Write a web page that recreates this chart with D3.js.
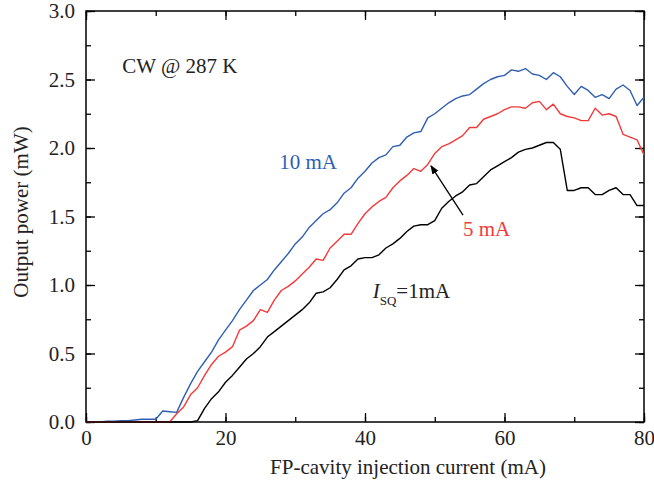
<!DOCTYPE html>
<html>
<head>
<meta charset="utf-8">
<script src="https://cdn.jsdelivr.net/npm/d3@7"></script>
<style>
  body { margin: 0; background: #fff; }
  text { font-family: "Liberation Serif", "Times New Roman", serif; }
</style>
</head>
<body>
<div id="chart"></div>
<script>
// injection current (mA), 1 mA steps
const current = d3.range(0, 81)

// output power (mW) for each I_SQ
const p10mA = [0, 0, 0, 0.005, 0.005, 0.01, 0.01, 0.015, 0.02, 0.02,
  0.02, 0.08, 0.075, 0.07, 0.18, 0.28, 0.37, 0.44, 0.51, 0.60,
  0.67, 0.74, 0.82, 0.89, 0.96, 1.00, 1.04, 1.11, 1.17, 1.23,
  1.30, 1.35, 1.42, 1.47, 1.52, 1.55, 1.60, 1.67, 1.71, 1.78,
  1.83, 1.89, 1.93, 1.95, 2.01, 2.02, 2.08, 2.11, 2.12, 2.22,
  2.25, 2.29, 2.33, 2.36, 2.38, 2.39, 2.43, 2.47, 2.50, 2.52,
  2.53, 2.57, 2.56, 2.58, 2.54, 2.53, 2.50, 2.55, 2.52, 2.45,
  2.39, 2.45, 2.42, 2.37, 2.39, 2.36, 2.43, 2.46, 2.42, 2.31, 2.37]

const p5mA = [0, 0, 0, 0, 0, 0, 0, 0, 0, 0,
  0, 0, 0, 0.06, 0.11, 0.20, 0.25, 0.34, 0.42, 0.48,
  0.51, 0.55, 0.67, 0.70, 0.74, 0.82, 0.80, 0.89, 0.96, 0.99,
  1.03, 1.08, 1.13, 1.19, 1.18, 1.27, 1.32, 1.37, 1.37, 1.45,
  1.52, 1.57, 1.61, 1.64, 1.71, 1.76, 1.80, 1.85, 1.83, 1.88,
  1.96, 2.01, 2.03, 2.06, 2.09, 2.15, 2.15, 2.21, 2.23, 2.25,
  2.28, 2.30, 2.30, 2.29, 2.33, 2.34, 2.28, 2.32, 2.25, 2.23,
  2.22, 2.20, 2.20, 2.29, 2.24, 2.25, 2.23, 2.10, 2.08, 2.06, 1.95]

const p1mA = [0, 0, 0, 0, 0, 0, 0, 0, 0, 0,
  0, 0, 0, 0, 0, 0, 0.01, 0.10, 0.17, 0.22,
  0.29, 0.34, 0.40, 0.46, 0.50, 0.55, 0.62, 0.66, 0.70, 0.74,
  0.78, 0.82, 0.87, 0.94, 0.95, 0.98, 1.04, 1.11, 1.14, 1.19,
  1.20, 1.20, 1.22, 1.27, 1.30, 1.34, 1.39, 1.43, 1.44, 1.44,
  1.47, 1.56, 1.61, 1.65, 1.68, 1.73, 1.74, 1.79, 1.84, 1.87,
  1.90, 1.93, 1.97, 1.99, 2.00, 2.02, 2.04, 2.04, 1.99, 1.69,
  1.69, 1.71, 1.71, 1.66, 1.66, 1.69, 1.71, 1.66, 1.66, 1.58, 1.58]

const xTicks = [0, 20, 40, 60, 80]
const yTicks = [0, 0.5, 1.0, 1.5, 2.0, 2.5, 3.0]

const series = [
  {name: '10 mA', values: p10mA, color: '#2f5fb3'},
  {name: '5 mA', values: p5mA, color: '#f23a3a'},
  {name: '1 mA', values: p1mA, color: '#000000'}
]

const W = 654, H = 487
const margin = {top: 11, right: 10, bottom: 65, left: 86}
const width = W - margin.left - margin.right
const height = H - margin.top - margin.bottom

const svg = d3.select('#chart').append('svg')
  .attr('width', W)
  .attr('height', H)
const g = svg.append('g')
  .attr('transform', `translate(${margin.left},${margin.top})`)

const xScale = d3.scaleLinear().domain([0, 80]).range([0, width])
const yScale = d3.scaleLinear().domain([0, 3]).range([height, 0])

// ticks point inward, on all four sides
const minorX = d3.range(0, 81, 10)
const minorY = d3.range(0, 3.01, 0.25)

g.append('g').attr('class', 'xAxis')
  .attr('transform', `translate(0,${height})`)
  .call(d3.axisBottom(xScale).tickValues(minorX).tickSize(-5).tickFormat(''))
g.append('g').attr('class', 'xAxisMajor')
  .attr('transform', `translate(0,${height})`)
  .call(d3.axisBottom(xScale).tickValues(xTicks).tickSize(-9).tickPadding(8).tickFormat(d3.format('d')))
g.append('g').attr('class', 'xTop')
  .call(d3.axisTop(xScale).tickValues(minorX).tickSize(-5).tickFormat(''))
g.append('g').attr('class', 'xTopMajor')
  .call(d3.axisTop(xScale).tickValues(xTicks).tickSize(-9).tickFormat(''))

g.append('g').attr('class', 'yAxis')
  .call(d3.axisLeft(yScale).tickValues(minorY).tickSize(-5).tickFormat(''))
g.append('g').attr('class', 'yAxisMajor')
  .call(d3.axisLeft(yScale).tickValues(yTicks).tickSize(-9).tickPadding(11).tickFormat(d3.format('.1f')))
g.append('g').attr('class', 'yRight')
  .attr('transform', `translate(${width},0)`)
  .call(d3.axisRight(yScale).tickValues(minorY).tickSize(-5).tickFormat(''))
g.append('g').attr('class', 'yRightMajor')
  .attr('transform', `translate(${width},0)`)
  .call(d3.axisRight(yScale).tickValues(yTicks).tickSize(-9).tickFormat(''))

g.selectAll('.domain').remove()
g.selectAll('.tick line').attr('stroke', '#000').attr('stroke-width', 1.3)
g.selectAll('.tick text').attr('fill', '#222').style('font-size', '21px')

// frame
g.append('rect')
  .attr('width', width).attr('height', height)
  .attr('fill', 'none').attr('stroke', '#000').attr('stroke-width', 1.5)

const line = d3.line()
  .x((d, i) => xScale(current[i]))
  .y(d => yScale(d))

g.selectAll('.series').data(series).join('path')
  .attr('class', 'series')
  .attr('d', d => line(d.values))
  .attr('fill', 'none')
  .attr('stroke', d => d.color)
  .attr('stroke-width', 1.4)
  .attr('stroke-linejoin', 'round')

// annotations
g.append('text')
  .attr('x', xScale(5.2)).attr('y', yScale(2.55))
  .style('font-size', '21px').attr('fill', '#222')
  .text('CW @ 287 K')
g.append('text')
  .attr('x', xScale(27.7)).attr('y', yScale(1.85))
  .style('font-size', '21px').attr('fill', series[0].color)
  .text('10 mA')
g.append('text')
  .attr('x', xScale(54.05)).attr('y', yScale(1.36))
  .style('font-size', '21px').attr('fill', series[1].color)
  .text('5 mA')
const isq = g.append('text')
  .attr('x', xScale(41.1)).attr('y', yScale(0.905))
  .style('font-size', '21px').attr('fill', '#222')
isq.append('tspan').style('font-style', 'italic').text('I')
isq.append('tspan').attr('dy', 7).style('font-size', '13px').text('SQ')
isq.append('tspan').attr('dy', -7).text('=1mA')

// arrow pointing at the 5 mA curve
svg.append('defs').append('marker')
  .attr('id', 'head').attr('viewBox', '0 0 10 10')
  .attr('refX', 9).attr('refY', 5)
  .attr('markerWidth', 9).attr('markerHeight', 9)
  .attr('markerUnits', 'userSpaceOnUse')
  .attr('orient', 'auto')
  .append('path').attr('d', 'M0,1 L10,5 L0,9 Z').attr('fill', '#000')
g.append('line')
  .attr('x1', xScale(54.05)).attr('y1', yScale(1.51))
  .attr('x2', xScale(49.46)).attr('y2', yScale(1.87))
  .attr('stroke', '#000').attr('stroke-width', 1.3)
  .attr('marker-end', 'url(#head)')

// axis titles
svg.append('text')
  .attr('x', 408).attr('y', 474)
  .attr('text-anchor', 'middle')
  .style('font-size', '21px').attr('fill', '#222')
  .text('FP-cavity injection current (mA)')
svg.append('text')
  .attr('transform', 'translate(28,212) rotate(-90)')
  .attr('text-anchor', 'middle')
  .style('font-size', '21px').attr('fill', '#222')
  .text('Output power (mW)')
</script>
</body>
</html>
